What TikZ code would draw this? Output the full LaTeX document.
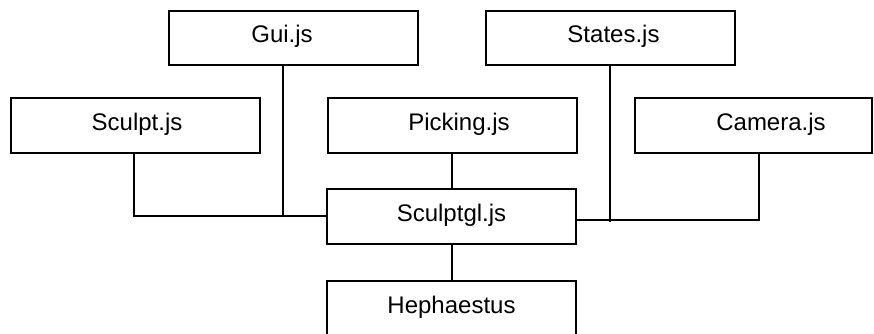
\documentclass[tikz,border=0pt]{standalone}
\usepackage{fontspec}
\setmainfont{Liberation Sans}
\begin{document}
\begin{tikzpicture}[x=0.75pt,y=-0.75pt,
  modbox/.style={draw=black, line width=1.5pt, fill=white, inner sep=0pt, outer sep=0pt,
    minimum width=186.75pt, minimum height=41pt},
  caption/.style={inner sep=0pt, text height=13pt, text depth=6.2pt,
    font=\fontsize{18}{20}\selectfont},
  link/.style={draw=black, line width=1.5pt}]
\useasboundingbox (0,0) rectangle (874,334);
\clip (0,0) rectangle (874,334);
\fill[white] (0,0) rectangle (874,334);

% module boxes, each caption placed inside its box
\node[modbox, label={[caption, xshift=-11.5*0.75pt]center:Gui.js}]     (gui)     at (293.5,38)    {};
\node[modbox, label={[caption, xshift=3*0.75pt]center:States.js}]      (states)  at (610.5,38)    {};
\node[modbox, label={[caption, xshift=1.5*0.75pt]center:Sculpt.js}]    (sculpt)  at (135.5,125.5) {};
\node[modbox, label={[caption, xshift=6.5*0.75pt]center:Picking.js}]   (picking) at (452.5,125.5) {};
\node[modbox, minimum width=177.75pt,
      label={[caption, xshift=17.5*0.75pt]center:Camera.js}]           (camera)  at (753.5,125.5) {};
\node[modbox, label={[caption]center:Sculptgl.js}]                     (core)    at (451.5,216.5) {};
\node[modbox, label={[caption]center:Hephaestus}]                      (heph)    at (451.5,308.5) {};

% junction points on the connector lines
\coordinate (lj) at (134,216);
\coordinate (rj) at (759,220);
\coordinate (sj) at (610,222);

% left side: Sculpt.js and Gui.js into Sculptgl.js
\draw[link] ([xshift=-1.5*0.75pt]sculpt.south) -- (sculpt.south -| lj) |- (core.west);
\draw[link] ([xshift=-10.5*0.75pt]gui.south) -- ++(0,151);
% Picking.js above, Hephaestus below
\draw[link] (picking.south -| core.north) -- (core.north);
\draw[link] (core.south) -- (heph.north);
% right side: States.js and Camera.js
\draw[link] (core.east |- rj) -- (rj) -- (camera.south -| rj);
\draw[link] (states.south -| sj) -- (sj);
\end{tikzpicture}
\end{document}
